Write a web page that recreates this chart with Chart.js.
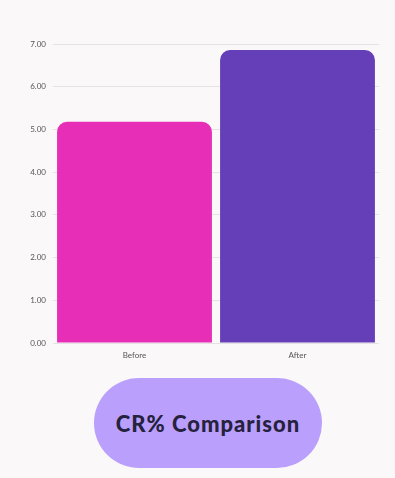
<!DOCTYPE html>
<html>
<head>
<meta charset="utf-8">
<script src="https://cdn.jsdelivr.net/npm/chart.js@4"></script>
<style>
  html, body { margin: 0; padding: 0; background: #faf8f9; }
  body { width: 395px; height: 478px; position: relative; overflow: hidden; }
  #wrap { position: absolute; left: 0; top: 0; width: 395px; height: 366px; }
  #pill {
    position: absolute; left: 94px; top: 378px; width: 228px; height: 90px;
    border-radius: 45px; background: #bb9ffc;
    display: flex; align-items: center; justify-content: center;
    font-family: "Lato", sans-serif; font-weight: 900; font-size: 22px;
    color: #25223d; letter-spacing: 1px;
  }
</style>
</head>
<body>
<div id="wrap"><canvas id="crChart"></canvas></div>
<div id="pill">CR% Comparison</div>
<script>
// datos del gráfico
const categories = ["Before", "After"];
const crValues = [5.18, 6.86];
const barColors = ["#e62eb6", "#643fb7"];
const yTicks = [0, 1, 2, 3, 4, 5, 6, 7];

const ctx = document.getElementById("crChart").getContext("2d");
const crChart = new Chart(ctx, {
  type: "bar",
  data: {
    labels: categories,
    datasets: [
      {
        label: "CR%",
        data: crValues,
        backgroundColor: barColors,
        borderRadius: { topLeft: 10, topRight: 10, bottomLeft: 0, bottomRight: 0 },
        borderSkipped: "bottom",
        categoryPercentage: 1,
        barPercentage: 0.95,
      },
    ],
  },
  options: {
    responsive: true,
    maintainAspectRatio: false,
    animation: false,
    layout: { padding: { top: 44, right: 16, left: 0, bottom: 0 } },
    plugins: {
      legend: { display: false },
      tooltip: { enabled: false },
    },
    scales: {
      x: {
        grid: { display: false },
        border: { display: false },
        ticks: {
          color: "#555",
          font: { family: "Lato", size: 8 },
          padding: 0,
        },
        afterFit: (scale) => { scale.height = 23; },
      },
      y: {
        min: 0,
        max: 7,
        afterBuildTicks: (scale) => {
          scale.ticks = yTicks.map((v) => ({ value: v }));
        },
        grid: { color: "#e4e2e4", lineWidth: 1, drawTicks: false },
        border: { display: false },
        ticks: {
          color: "#555",
          font: { family: "Lato", size: 8 },
          padding: 7,
          callback: (v) => Number(v).toFixed(2),
        },
        afterFit: (scale) => { scale.width = 53; },
      },
    },
  },
});
</script>
</body>
</html>
